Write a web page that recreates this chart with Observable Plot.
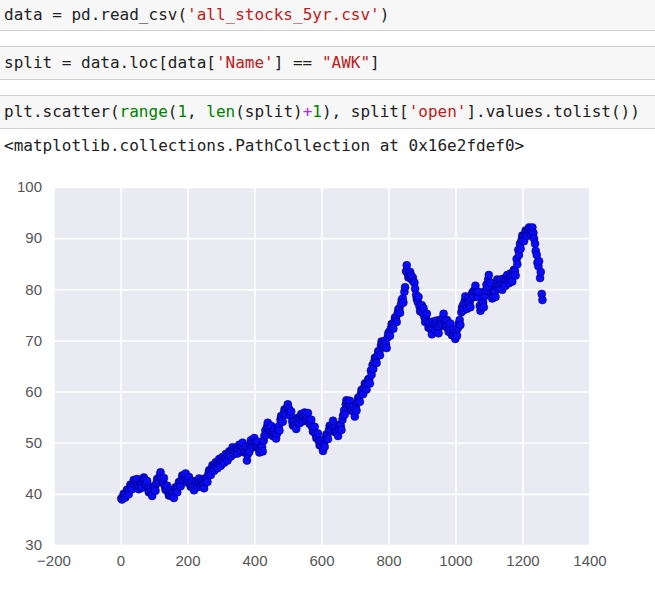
<!DOCTYPE html>
<html>
<head>
<meta charset="utf-8">
<script src="https://cdn.jsdelivr.net/npm/d3@7"></script>
<script src="https://cdn.jsdelivr.net/npm/@observablehq/plot@0.6"></script>
<style>
  html, body { margin: 0; padding: 0; background: #fff; width: 655px; height: 593px; overflow: hidden; position: relative; }
  .cell { position: absolute; left: -1px; width: 657px; background: #f7f7f7; border: 1px solid #cfcfcf; box-sizing: border-box; }
  .code { position: absolute; left: 4px; font-family: "DejaVu Sans Mono", monospace; font-size: 16px; color: #222; white-space: pre; line-height: 20px; }
  .s { color: #ba2121; }
  .b { color: #008000; }
  .n { color: #008000; }
  .o { color: #aa22ff; }
  #chart { position: absolute; left: 0; top: 170px; }
</style>
</head>
<body>
<div class="cell" style="top:-1px;height:32px;"></div>
<div class="code" style="top:5px;">data = pd.read_csv(<span class="s">'all_stocks_5yr.csv'</span>)</div>
<div class="cell" style="top:46px;height:34px;"></div>
<div class="code" style="top:53px;">split = data.loc[data[<span class="s">'Name'</span>] == <span class="s">"AWK"</span>]</div>
<div class="cell" style="top:95px;height:34px;"></div>
<div class="code" style="top:102px;">plt.scatter(<span class="b">range</span>(<span class="n">1</span>, <span class="b">len</span>(split)<span class="o">+</span><span class="n">1</span>), split[<span class="s">'open'</span>].values.tolist())</div>
<div class="code" style="top:136px;">&lt;matplotlib.collections.PathCollection at 0x16e2fdef0&gt;</div>
<div id="chart"></div>
<script>
// AWK daily open prices: days 1, 6, 11, ... (set A)
const openPricesA = [
  39.2, 39.5, 39.9, 40.2, 40.6, 41.2, 41.6, 42.1, 42.5, 42.2,
  41.8, 41.5, 42.0, 42.6, 42.9, 41.9, 41.1, 40.5, 40.3, 40.9,
  41.4, 42.2, 43.0, 43.7, 43.1, 42.4, 41.6, 40.9, 40.4, 40.0,
  39.7, 39.9, 40.6, 41.1, 41.6, 42.3, 42.9, 43.5, 43.4, 43.0,
  42.7, 42.2, 41.8, 41.4, 41.8, 42.1, 42.4, 42.3, 42.0, 41.9,
  42.5, 43.0, 44.0, 44.5, 45.0, 45.3, 45.6, 45.8, 46.1, 46.3,
  46.6, 46.9, 47.1, 47.3, 47.6, 48.1, 48.5, 48.6, 48.4, 48.8,
  48.9, 49.2, 49.4, 48.9, 48.5, 46.6, 49.0, 49.8, 50.0, 50.3,
  50.1, 49.5, 48.9, 48.8, 49.2, 50.5, 52.5, 53.2, 53.0, 52.6,
  52.2, 51.9, 51.7, 51.9, 53.3, 54.6, 55.0, 55.8, 56.4, 57.0,
  56.8, 55.4, 54.3, 53.4, 53.5, 54.2, 54.7, 54.9, 55.1, 55.2,
  55.4, 55.1, 54.6, 53.8, 53.1, 52.4, 51.8, 51.1, 50.4, 49.7,
  49.2, 50.0, 50.9, 51.6, 52.6, 53.3, 53.6, 53.0, 52.4, 52.2,
  52.8, 53.4, 54.6, 56.4, 57.6, 57.9, 57.5, 57.2, 56.4, 56.0,
  57.2, 58.1, 58.9, 59.6, 60.4, 60.9, 61.3, 61.7, 62.5, 64.2,
  65.3, 65.9, 66.5, 67.2, 68.0, 69.1, 69.6, 69.2, 69.4, 70.7,
  71.8, 72.5, 73.2, 73.8, 74.5, 75.4, 76.3, 77.2, 78.3, 79.6,
  83.6, 83.2, 82.7, 82.8, 82.4, 81.4, 79.0, 77.6, 76.8, 75.9,
  75.4, 74.7, 74.3, 73.6, 72.6, 72.3, 72.8, 73.2, 73.0, 72.5,
  72.9, 74.2, 74.5, 73.8, 73.1, 72.8, 72.5, 72.1, 71.4, 71.0,
  71.8, 72.6, 74.1, 75.6, 77.0, 77.8, 77.3, 77.5, 77.6, 78.4,
  79.6, 80.0, 79.6, 78.6, 76.9, 76.6, 77.6, 78.8, 81.0, 82.0,
  80.4, 79.3, 78.7, 79.6, 81.0, 81.3, 81.1, 80.9, 81.3, 81.7,
  82.0, 82.2, 82.3, 82.5, 83.0, 83.7, 86.0, 87.8, 89.0, 89.8,
  90.4, 90.9, 91.4, 91.7, 91.8, 91.6, 91.1, 89.0, 86.8, 84.6,
  82.3, 79.2
];
// days 3, 8, 13, ... (set B), the other edge of the point cloud
const openPricesB = [
  39.0, 40.1, 39.4, 40.9, 40.0, 41.9, 41.0, 42.8, 41.9, 43.0,
  41.0, 42.3, 41.3, 43.3, 42.0, 42.6, 40.4, 41.3, 39.7, 41.6,
  40.7, 43.0, 42.3, 44.3, 42.4, 43.2, 40.9, 41.7, 39.8, 40.8,
  40.4, 39.3, 41.4, 40.4, 42.4, 41.6, 43.7, 42.8, 44.1, 42.3,
  43.4, 41.5, 42.6, 40.8, 42.5, 41.4, 43.1, 41.6, 42.8, 41.2,
  43.2, 42.4, 44.7, 43.8, 45.7, 44.6, 46.3, 45.1, 46.9, 45.6,
  47.3, 46.2, 47.9, 46.6, 48.4, 47.4, 49.2, 47.9, 49.1, 48.0,
  49.7, 48.5, 50.1, 48.2, 49.3, 47.8, 48.3, 50.6, 49.2, 51.0,
  49.3, 50.3, 48.2, 49.6, 48.4, 51.4, 51.6, 54.0, 52.2, 53.4,
  51.4, 52.7, 50.9, 52.8, 52.5, 55.3, 54.2, 56.6, 55.6, 57.6,
  56.0, 56.2, 53.5, 54.2, 52.8, 55.0, 53.9, 55.7, 54.3, 56.0,
  54.6, 55.9, 53.8, 54.6, 52.3, 53.2, 51.0, 51.9, 49.6, 50.5,
  48.5, 49.3, 51.7, 50.8, 53.4, 52.5, 54.4, 52.2, 53.2, 51.4,
  53.6, 52.6, 55.4, 55.6, 58.4, 57.1, 58.3, 56.4, 57.2, 55.2,
  56.4, 58.9, 58.1, 60.4, 59.6, 61.7, 60.5, 62.5, 61.7, 63.4,
  64.5, 66.7, 65.7, 68.0, 67.2, 69.9, 68.8, 70.0, 68.6, 71.5,
  71.0, 73.3, 72.4, 74.6, 73.7, 76.2, 75.5, 78.0, 77.5, 80.5,
  84.8, 82.4, 83.5, 82.0, 81.6, 80.2, 78.2, 78.6, 75.8, 77.0,
  76.4, 73.7, 75.3, 72.6, 73.6, 71.3, 73.8, 72.2, 74.0, 71.5,
  73.9, 73.2, 75.3, 72.8, 74.1, 71.8, 73.4, 71.1, 72.3, 70.4,
  71.0, 73.4, 73.1, 76.5, 76.0, 78.7, 76.3, 78.4, 76.6, 79.3,
  78.6, 80.8, 78.6, 79.6, 75.9, 77.6, 76.6, 79.8, 80.0, 82.9,
  81.4, 78.3, 79.7, 78.6, 82.0, 80.3, 82.0, 80.0, 82.2, 80.8,
  82.9, 81.3, 83.2, 81.6, 83.9, 82.8, 85.0, 86.8, 88.0, 90.6,
  89.5, 91.6, 90.5, 92.2, 90.9, 92.2, 90.0, 87.6, 85.3, 85.6,
  83.5, 78.0
];
const sampleStep = 5;
const firstDayA = 1;
const firstDayB = 3;

const xTicks = [-200, 0, 200, 400, 600, 800, 1000, 1200, 1400];
const xTickLabels = ["\u2212200", "0", "200", "400", "600", "800", "1000", "1200", "1400"];
const yTicks = [30, 40, 50, 60, 70, 80, 90, 100];
const yTickLabels = ["30", "40", "50", "60", "70", "80", "90", "100"];

const points = [
  ...openPricesA.map((v, i) => ({day: firstDayA + i * sampleStep, open: v})),
  ...openPricesB.map((v, i) => ({day: firstDayB + i * sampleStep, open: v}))
].sort((a, b) => a.day - b.day);

const chart = Plot.plot({
  width: 655,
  height: 410,
  marginTop: 17,
  marginBottom: 35,
  marginLeft: 53.5,
  marginRight: 65.5,
  style: {fontFamily: "'Liberation Sans', Arial, sans-serif", fontSize: "15px", color: "#555", background: "transparent", overflow: "visible"},
  x: {domain: [-200, 1400], ticks: xTicks, tickFormat: d => xTickLabels[xTicks.indexOf(d)], tickSize: 0, tickPadding: 10, label: null},
  y: {domain: [30, 100], ticks: yTicks, tickFormat: d => yTickLabels[yTicks.indexOf(d)], tickSize: 0, tickPadding: 12, label: null},
  marks: [
    Plot.frame({fill: "#eaeaf2", stroke: null}),
    Plot.gridX(xTicks, {stroke: "#ffffff", strokeOpacity: 1, strokeWidth: 1.6}),
    Plot.gridY(yTicks, {stroke: "#ffffff", strokeOpacity: 1, strokeWidth: 1.6}),
    Plot.dot(points, {x: "day", y: "open", r: 4, fill: "#0a0aff", stroke: "#000033", strokeWidth: 0.6, strokeOpacity: 0.75})
  ]
});
document.getElementById("chart").appendChild(chart);
</script>
</body>
</html>
